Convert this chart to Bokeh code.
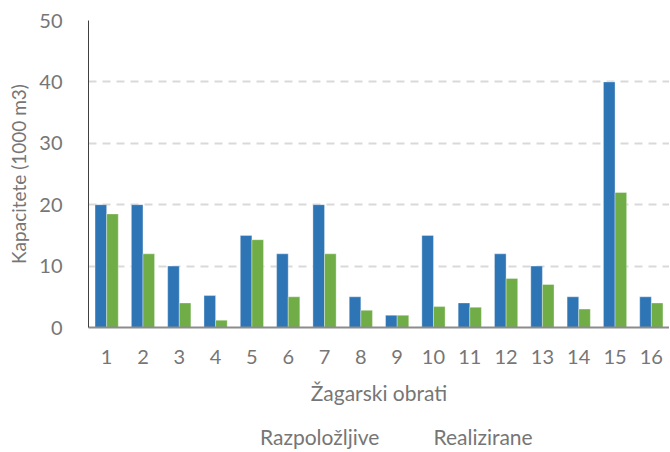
from bokeh.plotting import figure
from bokeh.models import ColumnDataSource, FactorRange, Range1d, Legend, LegendItem, FixedTicker
from bokeh.layouts import column
from bokeh.transform import dodge
from bokeh.embed import file_html
from bokeh.resources import INLINE

categories = [str(i) for i in range(1, 17)]
razpolozljive = [20, 20, 10, 5.2, 15, 12, 20, 5, 2, 15, 4, 12, 10, 5, 40, 5]
realizirane = [18.5, 12, 4, 1.2, 14.3, 5, 12, 2.8, 2, 3.4, 3.3, 8, 7, 3, 22, 4]
y_ticks = [0, 10, 20, 30, 40, 50]
series_names = ["Razpoložljive", "Realizirane"]

FONT = "Lato"
TXT = "#767676"
BLUE = "#2E75B6"
GREEN = "#70AD47"

source = ColumnDataSource(dict(cat=categories, a=razpolozljive, b=realizirane))

p = figure(frame_width=581, frame_height=307, x_range=FactorRange(*categories, range_padding=0),
           y_range=Range1d(0, 50), output_backend="svg", toolbar_location=None,
           min_border_left=88, min_border_right=0, min_border_top=20, min_border_bottom=93)

p.vbar(x=dodge("cat", -0.16, range=p.x_range), top="a", width=0.32, source=source,
       fill_color=BLUE, line_color="white", line_alpha=0.35, line_width=1)
p.vbar(x=dodge("cat", 0.16, range=p.x_range), top="b", width=0.32, source=source,
       fill_color=GREEN, line_color="white", line_alpha=0.35, line_width=1)

p.outline_line_color = None
p.xgrid.grid_line_color = None
p.ygrid.grid_line_color = "#d9d9d9"
p.ygrid.grid_line_width = 2
p.ygrid.grid_line_dash = "8 6"
p.yaxis.ticker = FixedTicker(ticks=y_ticks)

for ax in (p.xaxis[0], p.yaxis[0]):
    ax.major_tick_line_color = None
    ax.minor_tick_line_color = None
    ax.major_label_text_font = FONT
    ax.major_label_text_font_size = "20px"
    ax.major_label_text_color = TXT
    ax.axis_label_text_font = FONT
    ax.axis_label_text_color = TXT
    ax.axis_label_text_font_style = "normal"

p.yaxis.axis_label = "Kapacitete (1000 m3)"
p.yaxis.axis_label_text_font_size = "19px"
p.yaxis.axis_line_color = "#404040"
p.yaxis.axis_line_width = 1
p.yaxis.major_label_standoff = 20
p.yaxis.axis_label_standoff = 6

p.xaxis.axis_label = "Žagarski obrati"
p.xaxis.axis_label_text_font_size = "21px"
p.xaxis.axis_line_color = "#8c8c8c"
p.xaxis.axis_line_width = 2
p.xaxis.major_label_standoff = 16
p.xaxis.axis_label_standoff = 13

# legend strip below the chart (legend glyph proxies only, no data)
lf = figure(width=669, height=32, output_backend="svg", toolbar_location=None,
            x_range=Range1d(0, 1), y_range=Range1d(0, 1),
            x_axis_location=None, y_axis_location=None,
            min_border_left=0, min_border_right=0, min_border_top=0, min_border_bottom=0)
lf.outline_line_color = None
lf.xgrid.grid_line_color = None
lf.ygrid.grid_line_color = None
empty = ColumnDataSource(dict(x=[], top=[]))
g1 = lf.vbar(x="x", top="top", width=1, source=empty, fill_color=BLUE, line_color=BLUE)
g2 = lf.vbar(x="x", top="top", width=1, source=empty, fill_color=GREEN, line_color=GREEN)

legend = Legend(items=[LegendItem(label=series_names[0], renderers=[g1]),
                       LegendItem(label=series_names[1], renderers=[g2])],
                orientation="horizontal", location=(152, 3),
                glyph_width=13, glyph_height=13, label_standoff=7, spacing=34,
                label_text_font=FONT, label_text_font_size="21px", label_text_color=TXT,
                border_line_color=None, background_fill_alpha=0, padding=0, margin=0)
lf.add_layout(legend, "center")

layout = column(p, lf, spacing=0)
open("out.html", "w").write(file_html(layout, INLINE))
